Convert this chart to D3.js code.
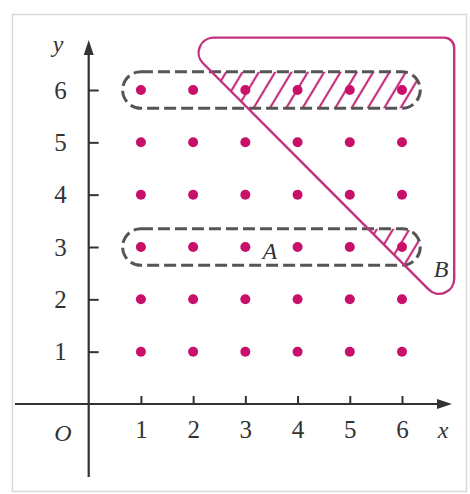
<!DOCTYPE html>
<html>
<head>
<meta charset="utf-8">
<script src="https://cdn.jsdelivr.net/npm/d3@7/dist/d3.min.js"></script>
<style>
  html, body { margin: 0; padding: 0; background: #fff; }
  svg { display: block; }
</style>
</head>
<body>
<div id="chart"></div>
<script>
// Lattice of points (x, y) with x, y in 1..6
const gridX = [1, 2, 3, 4, 5, 6]
const gridY = [1, 2, 3, 4, 5, 6]
const xTicks = [1, 2, 3, 4, 5, 6]
const yTicks = [1, 2, 3, 4, 5, 6]

// Event A: rows y = 6 and y = 3 (dashed ovals)
const setARows = [6, 3]
const ovalX = [0.65, 6.35]
const ovalHalf = 0.35

// Event B: triangle region x + y >= ~8.7 (rounded outline)
const triangleB = [[1.7, 7.0], [7.0, 7.0], [7.0, 1.7]]
const triangleRadius = [15, 10, 15]

const labels = [
  { text: "A", x: 3.47, y: 2.78 },
  { text: "B", x: 6.75, y: 2.43 },
]

const W = 470, H = 494
const DOT = "#c8106a"
const PINK = "#c4307c"
const INK = "#333"
const SERIF = "'Liberation Serif', 'DejaVu Serif', serif"

const x = d3.scaleLinear().domain([0, 6]).range([88.7, 402])
const y = d3.scaleLinear().domain([0, 6]).range([404, 90])

const svg = d3.select("#chart").append("svg")
  .attr("width", W)
  .attr("height", H)

// frame
svg.append("rect")
  .attr("x", 12.5).attr("y", 14.5)
  .attr("width", 454).attr("height", 477)
  .attr("fill", "#fff")
  .attr("stroke", "#d9d9d9")
  .attr("stroke-width", 1.5)

const defs = svg.append("defs")

// hatch pattern
defs.append("pattern")
  .attr("id", "hatch")
  .attr("patternUnits", "userSpaceOnUse")
  .attr("width", 14).attr("height", 14)
  .attr("patternTransform", "rotate(31)")
  .append("line")
  .attr("x1", 7).attr("y1", 0).attr("x2", 7).attr("y2", 14)
  .attr("stroke", PINK)
  .attr("stroke-width", 2.2)

function roundedPolygon(pts, radii) {
  const p = d3.path()
  const P = pts.map(d => [x(d[0]), y(d[1])])
  const n = P.length
  const mid = (a, b) => [(a[0] + b[0]) / 2, (a[1] + b[1]) / 2]
  const start = mid(P[n - 1], P[0])
  p.moveTo(start[0], start[1])
  for (let i = 0; i < n; i++) {
    const c = P[i], nx = P[(i + 1) % n]
    const m = mid(c, nx)
    p.arcTo(c[0], c[1], m[0], m[1], radii[i])
  }
  p.closePath()
  return p.toString()
}

function ovalAttrs(sel) {
  sel.attr("x", x(ovalX[0]))
    .attr("y", d => y(d + ovalHalf))
    .attr("width", x(ovalX[1]) - x(ovalX[0]))
    .attr("height", d => y(d - ovalHalf) - y(d + ovalHalf))
    .attr("rx", d => (y(d - ovalHalf) - y(d + ovalHalf)) / 2)
}

const triPath = roundedPolygon(triangleB, triangleRadius)

defs.append("clipPath").attr("id", "clip-tri")
  .append("path").attr("d", triPath)

setARows.forEach((r, i) => {
  defs.append("clipPath").attr("id", `clip-oval-${i}`)
    .append("rect").datum(r).call(ovalAttrs)
})

// hatching of A ∩ B
const hatch = svg.append("g").attr("clip-path", "url(#clip-tri)")
setARows.forEach((r, i) => {
  hatch.append("g").attr("clip-path", `url(#clip-oval-${i})`)
    .append("rect")
    .attr("x", 0).attr("y", 0).attr("width", W).attr("height", H)
    .attr("fill", "url(#hatch)")
})

// axes
const yAxis = d3.axisLeft(y)
  .tickValues(yTicks)
  .tickSize(-10)
  .tickPadding(22)
  .tickFormat(d3.format("d"))

const xAxis = d3.axisBottom(x)
  .tickValues(xTicks)
  .tickSize(-8)
  .tickPadding(16)
  .tickFormat(d3.format("d"))

const gy = svg.append("g").attr("transform", `translate(${x(0)},0)`).call(yAxis)
const gx = svg.append("g").attr("transform", `translate(0,${y(0)})`).call(xAxis)

;[gx, gy].forEach(g => {
  g.select(".domain").remove()
  g.selectAll(".tick line").attr("stroke", INK).attr("stroke-width", 2)
  g.selectAll(".tick text")
    .attr("fill", INK)
    .attr("font-family", SERIF)
    .attr("font-size", 25)
})

// axis lines with arrows
svg.append("line")
  .attr("x1", x(0)).attr("x2", x(0))
  .attr("y1", 477).attr("y2", 52)
  .attr("stroke", INK).attr("stroke-width", 2.2)
svg.append("path")
  .attr("d", `M${x(0)},40 L${x(0) - 5},55 L${x(0) + 5},55 Z`)
  .attr("fill", INK)

svg.append("line")
  .attr("x1", 15).attr("x2", 440)
  .attr("y1", y(0)).attr("y2", y(0))
  .attr("stroke", INK).attr("stroke-width", 2.2)
svg.append("path")
  .attr("d", `M452,${y(0)} L437,${y(0) - 5} L437,${y(0) + 5} Z`)
  .attr("fill", INK)

// axis names
const italic = sel => sel
  .attr("font-family", SERIF)
  .attr("font-style", "italic")
  .attr("font-size", 24)
  .attr("fill", INK)

svg.append("text").attr("x", 58).attr("y", 52).attr("text-anchor", "middle").text("y").call(italic)
svg.append("text").attr("x", 443).attr("y", 438).attr("text-anchor", "middle").text("x").call(italic)
svg.append("text").attr("x", 63).attr("y", 441).attr("text-anchor", "middle").text("O").call(italic)

// dashed ovals (event A)
svg.append("g").selectAll("rect")
  .data(setARows)
  .join("rect")
  .call(ovalAttrs)
  .attr("fill", "none")
  .attr("stroke", "#555")
  .attr("stroke-width", 3)
  .attr("stroke-dasharray", "12,5")

// triangle outline (event B)
svg.append("path")
  .attr("d", triPath)
  .attr("fill", "none")
  .attr("stroke", PINK)
  .attr("stroke-width", 2.4)

// lattice dots
const points = d3.cross(gridX, gridY)
svg.append("g").selectAll("circle")
  .data(points)
  .join("circle")
  .attr("cx", d => x(d[0]))
  .attr("cy", d => y(d[1]))
  .attr("r", 5)
  .attr("fill", DOT)

// event labels
svg.append("g").selectAll("text")
  .data(labels)
  .join("text")
  .attr("x", d => x(d.x))
  .attr("y", d => y(d.y))
  .attr("text-anchor", "middle")
  .text(d => d.text)
  .call(italic)
</script>
</body>
</html>
